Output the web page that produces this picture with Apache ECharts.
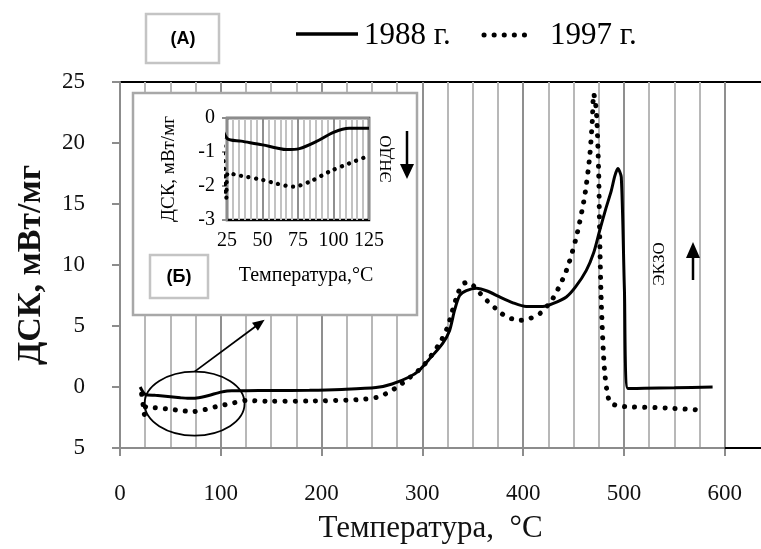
<!DOCTYPE html>
<html><head><meta charset="utf-8">
<script src="https://cdn.jsdelivr.net/npm/echarts@6/dist/echarts.min.js"></script>
<style>html,body{margin:0;padding:0;background:#fff}#c{width:761px;height:549px}</style>
</head><body><div id="c"></div>
<script>
// ---- data ----
const temp1988 = [20, 25, 35, 50, 60, 67, 76, 88, 100, 111, 125, 150, 188, 220, 254, 270, 287, 297, 306, 320, 327, 332, 337, 343.7, 353.6, 365, 376.7, 390, 403, 419.6, 430, 442.9, 452, 462.7, 470, 476, 482, 487.5, 491, 494, 497.4, 500.5, 504, 520, 550, 588];
const dsc1988  = [0.0, -0.6, -0.68, -0.79, -0.88, -0.93, -0.9, -0.69, -0.42, -0.3, -0.3, -0.29, -0.27, -0.2, -0.05, 0.25, 0.82, 1.37, 2.2, 3.56, 4.62, 6.3, 7.5, 7.9, 8.1, 7.85, 7.38, 6.9, 6.6, 6.6, 6.85, 7.38, 8.2, 9.56, 11.0, 12.84, 14.6, 16.1, 17.3, 17.9, 17.2, 8.0, -0.13, -0.1, -0.07, 0.0];
const temp1997 = [21.5, 23, 24.5, 25.5, 35, 50, 60, 71.7, 83.4, 97.4, 111.4, 125, 150, 188, 238, 255, 264, 275, 284, 300.6, 317, 325, 330, 335, 338.7, 343, 348.6, 355, 362, 376.7, 385, 396.5, 406, 416.4, 429.5, 443, 452.8, 461, 466, 468.7, 470, 472.6, 474.9, 476, 477.6, 480.8, 485.8, 495, 509, 542, 580];
const dsc1997  = [-0.6, -1.5, -2.36, -1.62, -1.7, -1.82, -1.93, -2.02, -1.87, -1.57, -1.33, -1.11, -1.17, -1.15, -1.03, -0.85, -0.54, 0.0, 0.55, 1.7, 3.56, 4.9, 6.3, 7.6, 8.3, 8.55, 8.45, 7.9, 7.25, 6.15, 5.7, 5.47, 5.6, 6.0, 7.25, 9.56, 12.3, 15.6, 18.85, 21.9, 24.05, 22.7, 17.8, 12.3, 6.8, 1.37, -1.23, -1.55, -1.64, -1.72, -1.91];

const seriesNames = ['1988 г.', '1997 г.'];
const xTickValues = [0, 100, 200, 300, 400, 500, 600];
const xTickLabels = ['0', '100', '200', '300', '400', '500', '600'];
const yTickValues = [-5, 0, 5, 10, 15, 20, 25];
const yTickLabels = ['5', '0', '5', '10', '15', '20', '25'];
const insetXTicks = [25, 50, 75, 100, 125];
const insetYTicks = [-3, -2, -1, 0];

const mainXTitle = 'Температура,  °C';
const mainYTitle = 'ДСК, мВт/мг';
const insetXTitle = 'Температура,°C';
const insetYTitle = 'ДСК, мВт/мг';

// ---- build ----
const SERIF = '"Liberation Serif", "Times New Roman", serif';
const SANS = '"Liberation Sans", Arial, sans-serif';
const pairs = (xs, ys) => xs.map((x, i) => [x, ys[i]]);
const main1988 = pairs(temp1988, dsc1988);
const main1997 = pairs(temp1997, dsc1997);
const insetMax = insetXTicks[insetXTicks.length - 1];
const inset1988 = main1988.filter(p => p[0] <= insetMax);
const inset1997 = main1997.filter(p => p[0] <= insetMax);

const xMax = 640, gridStep = 25;
const lastGrid = xTickValues[xTickValues.length - 1];
const splitColors = [];
for (let v = 0; v <= lastGrid + gridStep; v += gridStep) {
  if (v > lastGrid) splitColors.push('rgba(0,0,0,0)');
  else splitColors.push(v % 100 === 0 ? '#8f8f8f' : '#b8b8b8');
}

const chart = echarts.init(document.getElementById('c'), null, {renderer: 'canvas'});
const option = {
  animation: false,
  backgroundColor: '#fff',
  grid: [
    {left: 120, right: -4, top: 82, bottom: 101, show: true, borderColor: '#000', borderWidth: 2, outerBoundsMode: 'none'},
    {left: 227, top: 118, width: 142, height: 102, show: true, borderColor: '#000', borderWidth: 2.5, z: 4, outerBoundsMode: 'none'}
  ],
  xAxis: [
    { // main gridlines
      type: 'value', gridIndex: 0, min: 0, max: xMax, interval: gridStep, position: 'bottom',
      axisLine: {show: false}, axisTick: {show: false}, axisLabel: {show: false},
      splitLine: {show: true, lineStyle: {color: splitColors, width: 2}}
    },
    { // inset
      type: 'value', gridIndex: 1, min: insetXTicks[0], max: insetMax, interval: 25, z: 5,
      axisLine: {show: true, lineStyle: {color: '#8c8c8c', width: 2}},
      axisTick: {show: true, length: 5, lineStyle: {color: '#8c8c8c', width: 2}},
      axisLabel: {fontFamily: SERIF, fontSize: 20, color: '#000', margin: 11},
      splitLine: {show: true, lineStyle: {color: '#8f8f8f', width: 2}},
      minorTick: {show: false, splitNumber: 6},
      minorSplitLine: {show: true, lineStyle: {color: '#c2c2c2', width: 2}},
      name: insetXTitle, nameLocation: 'middle', nameGap: 46,
      nameTextStyle: {fontFamily: SERIF, fontSize: 20, color: '#000', padding: [0, 0, 0, 16]}
    },
    { // main ticks, labels, axis line
      type: 'value', gridIndex: 0, min: 0, max: xMax, interval: 100, position: 'bottom', z: 1,
      axisLine: {show: true, onZero: false, lineStyle: {color: '#8c8c8c', width: 2}},
      axisTick: {show: true, length: 8, lineStyle: {color: '#8c8c8c', width: 2}},
      axisLabel: {fontFamily: SERIF, fontSize: 23, color: '#111', margin: 34,
        formatter: v => { const i = xTickValues.indexOf(v); return i >= 0 ? xTickLabels[i] : ''; }},
      splitLine: {show: false},
      name: mainXTitle, nameLocation: 'middle', nameGap: 65,
      nameTextStyle: {fontFamily: SERIF, fontSize: 31, color: '#111', padding: [0, 24, 0, 0]}
    }
  ],
  yAxis: [
    {
      type: 'value', gridIndex: 0, min: yTickValues[0], max: yTickValues[yTickValues.length - 1], interval: 5, z: 1,
      axisLine: {show: true, lineStyle: {color: '#8c8c8c', width: 2}},
      axisTick: {show: true, length: 8, lineStyle: {color: '#8c8c8c', width: 2}},
      axisLabel: {fontFamily: SERIF, fontSize: 23, color: '#111', margin: 35,
        formatter: v => { const i = yTickValues.indexOf(v); return i >= 0 ? yTickLabels[i] : ''; }},
      splitLine: {show: false},
      name: mainYTitle, nameLocation: 'middle', nameGap: 72, nameRotate: 90,
      nameTextStyle: {fontFamily: SERIF, fontSize: 34, fontWeight: 'bold', color: '#111'}
    },
    {
      type: 'value', gridIndex: 1, min: insetYTicks[0], max: insetYTicks[insetYTicks.length - 1], interval: 1, z: 5,
      axisLine: {show: true, lineStyle: {color: '#8c8c8c', width: 2}},
      axisTick: {show: true, length: 5, lineStyle: {color: '#8c8c8c', width: 2}},
      axisLabel: {fontFamily: SERIF, fontSize: 20, color: '#000', margin: 12},
      splitLine: {show: false},
      name: insetYTitle, nameLocation: 'middle', nameGap: 48, nameRotate: 90,
      nameTextStyle: {fontFamily: SERIF, fontSize: 19, color: '#000'}
    }
  ],
  series: [
    {
      name: seriesNames[0], type: 'line', xAxisIndex: 0, yAxisIndex: 0, data: main1988,
      symbol: 'none', showSymbol: false, smooth: 0.25, z: 2,
      itemStyle: {color: '#000'}, lineStyle: {color: '#000', width: 3}
    },
    {
      name: seriesNames[1], type: 'line', xAxisIndex: 0, yAxisIndex: 0, data: main1997,
      symbol: 'none', showSymbol: false, smooth: 0.25, z: 2,
      itemStyle: {color: '#000'}, lineStyle: {color: '#000', width: 5, type: [0.1, 10], cap: 'round'}
    },
    {
      name: seriesNames[0], type: 'line', xAxisIndex: 1, yAxisIndex: 1, data: inset1988,
      symbol: 'none', showSymbol: false, smooth: 0.3, clip: false, z: 6,
      itemStyle: {color: '#000'}, lineStyle: {color: '#000', width: 3}
    },
    {
      name: seriesNames[1], type: 'line', xAxisIndex: 1, yAxisIndex: 1, data: inset1997,
      symbol: 'none', showSymbol: false, smooth: 0.3, clip: false, z: 6,
      itemStyle: {color: '#000'}, lineStyle: {color: '#000', width: 4.2, type: [0.1, 7.5], cap: 'round'}
    }
  ]
};
chart.setOption(option);

// ---- annotations & legend ----
function arrow(x1, y1, x2, y2, headLen, headW, lw, z) {
  const dx = x2 - x1, dy = y2 - y1, L = Math.hypot(dx, dy);
  const ux = dx / L, uy = dy / L, px = -uy, py = ux;
  const bx = x2 - ux * headLen, by = y2 - uy * headLen;
  return [
    {type: 'line', z, shape: {x1, y1, x2: bx + ux * 1, y2: by + uy * 1}, style: {stroke: '#000', lineWidth: lw}},
    {type: 'polygon', z, shape: {points: [[x2, y2], [bx + px * headW / 2, by + py * headW / 2], [bx - px * headW / 2, by - py * headW / 2]]}, style: {fill: '#000'}}
  ];
}
const toPx = p => chart.convertToPixel({seriesIndex: 0}, p);
const ellC = toPx([74, -1.36]);
const ellE = toPx([123.6, -1.36]);
const ellT = toPx([74, 1.26]);
const arrEnd = toPx([143.5, 5.52]);
const axisStart = toPx([xTickValues[0], yTickValues[0]]);
const axisEnd = toPx([lastGrid, yTickValues[0]]);

const graphics = [
  // legend
  {type: 'line', z: 9, shape: {x1: 296, y1: 34, x2: 358, y2: 34}, style: {stroke: '#000', lineWidth: 3.5}},
  {type: 'text', z: 9, x: 364, y: 36, style: {text: seriesNames[0], fontFamily: SERIF, fontSize: 31, fill: '#000', align: 'left', verticalAlign: 'middle'}},
  {type: 'line', z: 9, shape: {x1: 484, y1: 35, x2: 534.2, y2: 35}, style: {stroke: '#000', lineWidth: 5, lineDash: [0.1, 10], lineCap: 'round'}},
  {type: 'text', z: 9, x: 550, y: 36, style: {text: seriesNames[1], fontFamily: SERIF, fontSize: 31, fill: '#000', align: 'left', verticalAlign: 'middle'}},
  // (А)
  {type: 'rect', z: 8, shape: {x: 146, y: 14, width: 73, height: 49}, style: {fill: '#fff', stroke: '#c4c4c4', lineWidth: 2.5}},
  {type: 'text', z: 9, x: 183, y: 39, style: {text: '(А)', fontFamily: SANS, fontWeight: 'bold', fontSize: 18, fill: '#000', align: 'center', verticalAlign: 'middle'}},
  // inset box
  {type: 'rect', z: 3, shape: {x: 133, y: 93, width: 284, height: 222}, style: {fill: '#fff', stroke: '#a8a8a8', lineWidth: 2.5}},
  {type: 'rect', z: 8, shape: {x: 150, y: 255, width: 58, height: 43}, style: {fill: '#fff', stroke: '#c4c4c4', lineWidth: 2.5}},
  {type: 'text', z: 9, x: 179, y: 277, style: {text: '(Б)', fontFamily: SANS, fontWeight: 'bold', fontSize: 18, fill: '#000', align: 'center', verticalAlign: 'middle'}},
  {type: 'text', z: 9, x: 387, y: 159, rotation: Math.PI / 2, style: {text: 'ЭНДО', fontFamily: SERIF, fontSize: 17, fill: '#000', align: 'center', verticalAlign: 'middle'}},
  ...arrow(407, 131, 407, 179, 15, 14, 2.5, 9),
  {type: 'text', z: 9, x: 660, y: 264, rotation: Math.PI / 2, style: {text: 'ЭКЗО', fontFamily: SERIF, fontSize: 17, fill: '#000', align: 'center', verticalAlign: 'middle'}},
  ...arrow(693, 280, 693, 242, 16, 14, 2.5, 9),
  {type: 'ellipse', z: 9, shape: {cx: ellC[0], cy: ellC[1], rx: ellE[0] - ellC[0], ry: ellC[1] - ellT[1]}, style: {fill: 'none', stroke: '#000', lineWidth: 1.8}},
  ...arrow(ellC[0], ellT[1], arrEnd[0], arrEnd[1], 12, 10, 1.8, 9),
  // bottom axis: gray up to the last tick, black frame after it (drawn on top)
  {type: 'line', z: 100, shape: {x1: axisStart[0] - 8, y1: axisStart[1], x2: axisEnd[0], y2: axisEnd[1]}, style: {stroke: '#8c8c8c', lineWidth: 2}},
  {type: 'line', z: 100, shape: {x1: axisEnd[0], y1: axisEnd[1], x2: 770, y2: axisEnd[1]}, style: {stroke: '#000', lineWidth: 2}}
];
chart.setOption({graphic: graphics});
</script>
</body></html>
